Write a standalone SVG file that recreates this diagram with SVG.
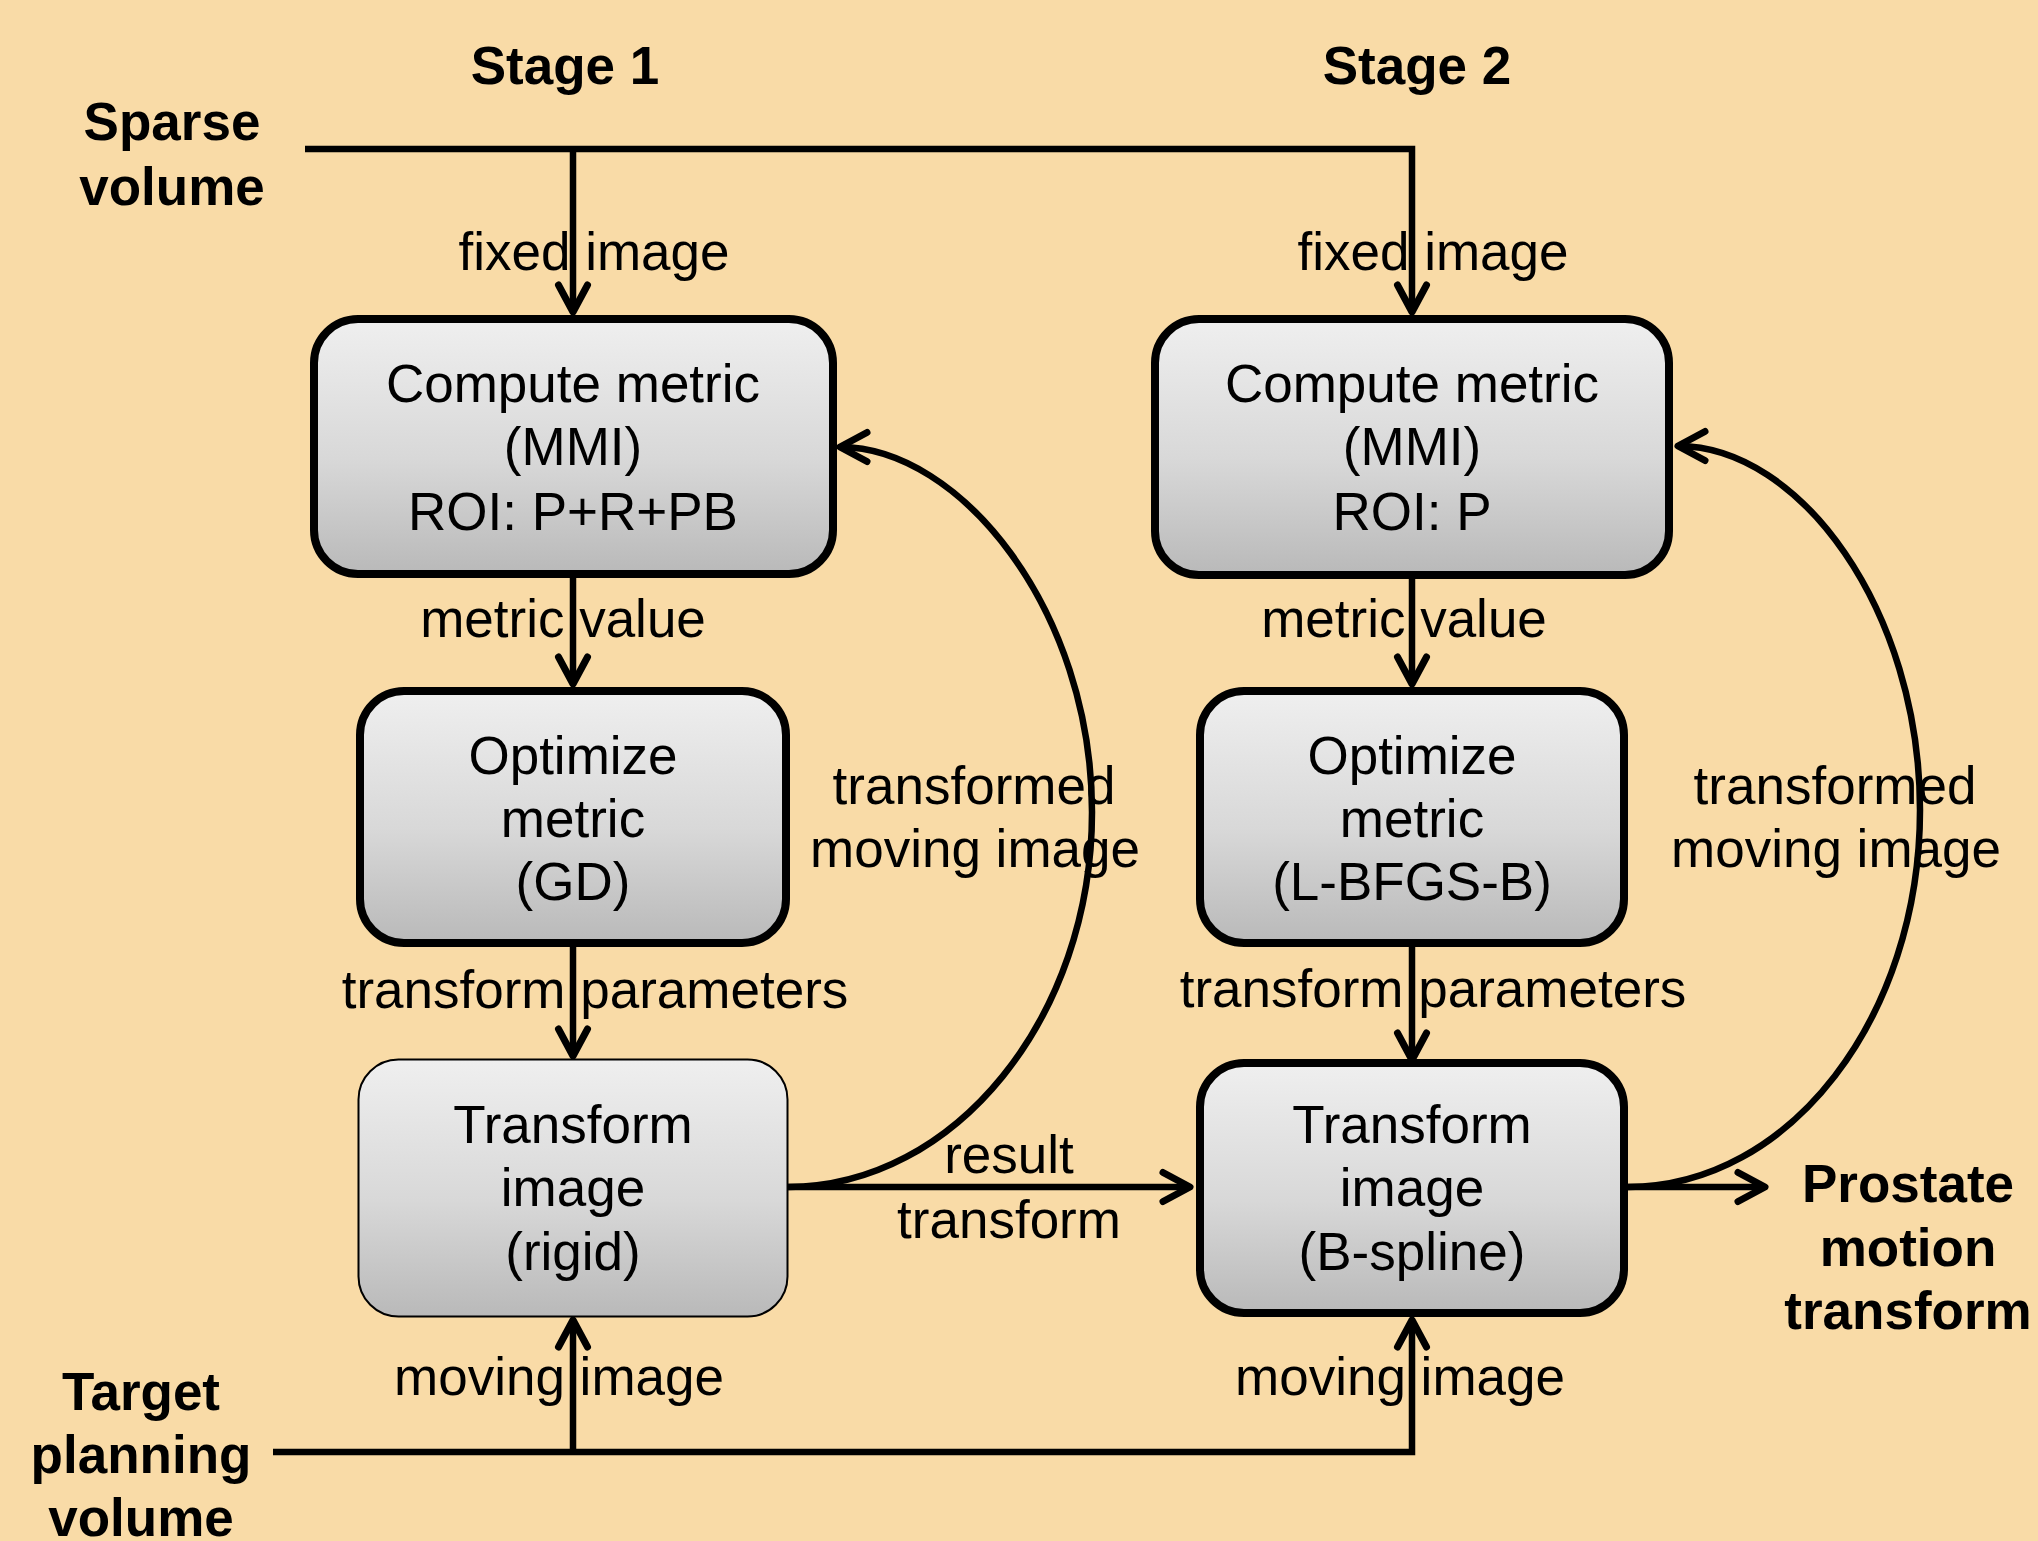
<svg xmlns="http://www.w3.org/2000/svg" width="2038" height="1541" viewBox="0 0 2038 1541">
  <defs>
    <linearGradient id="boxFill" x1="0" y1="0" x2="0" y2="1">
      <stop offset="0" stop-color="#efefef"/>
      <stop offset="0.55" stop-color="#d8d8d8"/>
      <stop offset="1" stop-color="#b9b9b9"/>
    </linearGradient>
    <marker id="chev" markerUnits="userSpaceOnUse" markerWidth="80" markerHeight="80" refX="0" refY="0" orient="auto" overflow="visible">
      <path d="M-27,-14.5 L0,0 L-27,14.5" fill="none" stroke="#000" stroke-width="7" stroke-linecap="round" stroke-linejoin="round"/>
    </marker>
    <style>
      .box { fill: url(#boxFill); stroke: #000; stroke-width: 8; }
      .box-thin { fill: url(#boxFill); stroke: #000; stroke-width: 2; }
      .lbl { font-family: "Liberation Sans", Arial, sans-serif; font-size: 53px; fill: #000; text-anchor: middle; }
      .bold { font-weight: bold; }
      .wire { fill: none; stroke: #000; stroke-width: 6.5; stroke-linejoin: miter; }
      .arrow { marker-end: url(#chev); }
    </style>
  </defs>

  <rect width="2038" height="1541" fill="#f9dba7"/>

  <!-- headings and side labels -->
  <g id="headings">
    <text class="lbl bold" x="565" y="84">Stage 1</text>
    <text class="lbl bold" x="1417" y="84">Stage 2</text>
  </g>
  <g id="sparse-volume">
    <text class="lbl bold" x="172" y="140">Sparse</text>
    <text class="lbl bold" x="172" y="205">volume</text>
  </g>
  <g id="target-volume">
    <text class="lbl bold" x="141" y="1410">Target</text>
    <text class="lbl bold" x="141" y="1473">planning</text>
    <text class="lbl bold" x="141" y="1536">volume</text>
  </g>
  <g id="prostate-transform">
    <text class="lbl bold" x="1908" y="1202">Prostate</text>
    <text class="lbl bold" x="1908" y="1266">motion</text>
    <text class="lbl bold" x="1908" y="1329">transform</text>
  </g>

  <!-- connectors -->
  <g id="connectors">
    <path class="wire arrow" d="M305,149 H1412 V312"/>
    <path class="wire arrow" d="M573,149 V312"/>
    <path class="wire arrow" d="M573,578 V684"/>
    <path class="wire arrow" d="M1412,579 V684"/>
    <path class="wire arrow" d="M573,947 V1056"/>
    <path class="wire arrow" d="M1412,947 V1060"/>
    <path class="wire arrow" d="M273,1452 H1412 V1320"/>
    <path class="wire arrow" d="M573,1452 V1320"/>
    <path class="wire arrow" d="M788,1187 H1190"/>
    <path class="wire arrow" d="M1628,1187 H1765"/>
    <path class="wire arrow" d="M788,1187 C955,1187 1092,1017 1092,812 C1092,610 960,447 840,447"/>
    <path class="wire arrow" d="M1628,1187 C1790,1187 1920,1017 1920,810 C1920,610 1800,446 1678,446"/>
  </g>

  <!-- connector labels -->
  <g id="connector-labels">
    <text class="lbl" x="594" y="270">fixed image</text>
    <text class="lbl" x="1433" y="270">fixed image</text>
    <text class="lbl" x="563" y="637">metric value</text>
    <text class="lbl" x="1404" y="637">metric value</text>
    <text class="lbl" x="595" y="1008">transform parameters</text>
    <text class="lbl" x="1433" y="1007">transform parameters</text>
    <text class="lbl" x="559" y="1395">moving image</text>
    <text class="lbl" x="1400" y="1395">moving image</text>
    <text class="lbl" x="1009" y="1173">result</text>
    <text class="lbl" x="1009" y="1238">transform</text>
    <text class="lbl" x="974" y="804">transformed</text>
    <text class="lbl" x="975" y="867">moving image</text>
    <text class="lbl" x="1835" y="804">transformed</text>
    <text class="lbl" x="1836" y="867">moving image</text>
  </g>

  <!-- stage 1 nodes -->
  <g id="compute-metric-1">
    <rect class="box" x="314" y="319" width="519" height="255" rx="44"/>
    <text class="lbl" x="573" y="402">Compute metric</text>
    <text class="lbl" x="573" y="465">(MMI)</text>
    <text class="lbl" x="573" y="530">ROI: P+R+PB</text>
  </g>
  <g id="optimize-metric-1">
    <rect class="box" x="360" y="691" width="426" height="252" rx="44"/>
    <text class="lbl" x="573" y="774">Optimize</text>
    <text class="lbl" x="573" y="837">metric</text>
    <text class="lbl" x="573" y="900">(GD)</text>
  </g>
  <g id="transform-image-1">
    <rect class="box-thin" x="358.5" y="1059.5" width="429" height="257" rx="40"/>
    <text class="lbl" x="573" y="1143">Transform</text>
    <text class="lbl" x="573" y="1206">image</text>
    <text class="lbl" x="573" y="1270">(rigid)</text>
  </g>

  <!-- stage 2 nodes -->
  <g id="compute-metric-2">
    <rect class="box" x="1155" y="319" width="514" height="256" rx="44"/>
    <text class="lbl" x="1412" y="402">Compute metric</text>
    <text class="lbl" x="1412" y="465">(MMI)</text>
    <text class="lbl" x="1412" y="530">ROI: P</text>
  </g>
  <g id="optimize-metric-2">
    <rect class="box" x="1200" y="691" width="424" height="252" rx="44"/>
    <text class="lbl" x="1412" y="774">Optimize</text>
    <text class="lbl" x="1412" y="837">metric</text>
    <text class="lbl" x="1412" y="900">(L-BFGS-B)</text>
  </g>
  <g id="transform-image-2">
    <rect class="box" x="1200" y="1063" width="424" height="250" rx="44"/>
    <text class="lbl" x="1412" y="1143">Transform</text>
    <text class="lbl" x="1412" y="1206">image</text>
    <text class="lbl" x="1412" y="1270">(B-spline)</text>
  </g>
</svg>
